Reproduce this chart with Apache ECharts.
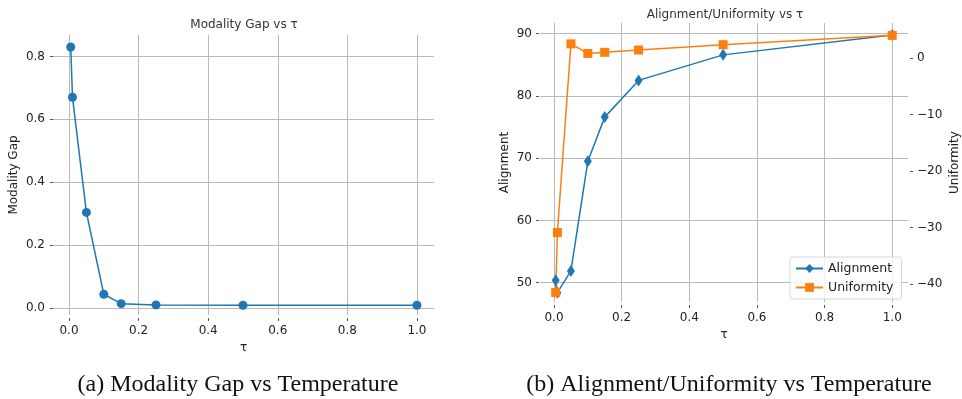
<!DOCTYPE html>
<html>
<head>
<meta charset="utf-8">
<script src="https://cdn.jsdelivr.net/npm/echarts@6/dist/echarts.min.js"></script>
<style>
  html, body { margin: 0; padding: 0; background: #fff; }
  #main { width: 962px; height: 399px; }
</style>
</head>
<body>
<div id="main"></div>
<script>
// temperature values (shared by both panels)
var tau = [0.005, 0.01, 0.05, 0.1, 0.15, 0.25, 0.5, 1.0];
// panel (a)
var gapValues = [0.83, 0.67, 0.304, 0.044, 0.014, 0.010, 0.009, 0.009];
// panel (b)
var alignValues = [50.4, 48.4, 51.9, 69.5, 76.6, 82.5, 86.6, 89.8];
var uniformValues = [-41.5, -30.9, 2.5, 0.8, 1.0, 1.4, 2.35, 4.0];
// tick labels
var xTicks = [0, 0.2, 0.4, 0.6, 0.8, 1.0];
var gapTicks = [0, 0.2, 0.4, 0.6, 0.8];
var alignTicks = [50, 60, 70, 80, 90];
var uniformTicks = [-40, -30, -20, -10, 0];

function pairs(xs, ys) {
    var out = [];
    for (var i = 0; i < xs.length; i++) {
        out.push([xs[i], ys[i]]);
    }
    return out;
}

var font = 'DejaVu Sans';
var gridColor = '#b9b9b9';
var tickStyle = { show: true, inside: false, length: 3, lineStyle: { color: '#555', width: 1 } };

function xAxisOf(idx, min, max) {
    return {
        type: 'value', gridIndex: idx, min: min, max: max,
        name: 'τ', nameLocation: 'middle', nameGap: 21,
        nameTextStyle: { fontFamily: font, fontSize: 12, color: '#222' },
        offset: 3,
        axisLine: { show: false, onZero: false },
        axisTick: Object.assign({ customValues: xTicks }, tickStyle),
        axisLabel: {
            customValues: xTicks, margin: 7, fontFamily: font, fontSize: 12, color: '#222',
            formatter: function (v) { return v.toFixed(1); }
        },
        splitLine: { show: true, lineStyle: { color: gridColor, width: 1 } }
    };
}

var myChart = echarts.init(document.getElementById('main'));
var option = {
    backgroundColor: '#fff',
    animation: false,
    title: [{
        text: 'Modality Gap vs τ', left: 239, top: 14, textAlign: 'center',
        textStyle: { fontFamily: font, fontSize: 12, fontWeight: 'normal', color: '#333' }
    }, {
        text: 'Alignment/Uniformity vs τ', left: 720, top: 4, textAlign: 'center',
        textStyle: { fontFamily: font, fontSize: 12, fontWeight: 'normal', color: '#333' }
    }, {
        text: '(a) Modality Gap vs Temperature', left: 233, top: 368, textAlign: 'center',
        textStyle: { fontFamily: 'Liberation Serif', fontSize: 24, fontWeight: 'normal', color: '#111' }
    }, {
        text: '(b) Alignment/Uniformity vs Temperature', left: 724, top: 368, textAlign: 'center',
        textStyle: { fontFamily: 'Liberation Serif', fontSize: 24, fontWeight: 'normal', color: '#111' }
    }],
    legend: {
        orient: 'vertical', left: 790, top: 257,
        padding: [5, 8, 5, 5], itemGap: 6, itemWidth: 27, itemHeight: 11,
        borderColor: '#d6d6d6', borderWidth: 1, borderRadius: 3,
        backgroundColor: 'rgba(255,255,255,0.8)',
        textStyle: { fontFamily: font, fontSize: 12.5, color: '#222' },
        data: ['Alignment', 'Uniformity']
    },
    grid: [
        { left: 53, top: 35, width: 381, height: 280 },
        { left: 540, top: 23, width: 368, height: 279 }
    ],
    xAxis: [
        xAxisOf(0, -0.046, 1.049),
        xAxisOf(1, -0.0414, 1.0466)
    ],
    yAxis: [{
        type: 'value', gridIndex: 0, min: -0.022, max: 0.868,
        name: 'Modality Gap', nameLocation: 'middle', nameGap: 33, nameRotate: 90,
        nameTextStyle: { fontFamily: font, fontSize: 12, color: '#222' },
        axisLine: { show: false, onZero: false },
        axisTick: Object.assign({ customValues: gapTicks }, tickStyle),
        axisLabel: {
            customValues: gapTicks, margin: 8, fontFamily: font, fontSize: 12, color: '#222',
            formatter: function (v) { return v.toFixed(1); }
        },
        splitLine: { show: true, lineStyle: { color: gridColor, width: 1 } }
    }, {
        type: 'value', gridIndex: 1, min: 46.9, max: 91.72, position: 'left',
        name: 'Alignment', nameLocation: 'middle', nameGap: 28, nameRotate: 90,
        nameTextStyle: { fontFamily: font, fontSize: 12, color: '#222' },
        offset: 1,
        axisLine: { show: false, onZero: false },
        axisTick: Object.assign({ customValues: alignTicks }, tickStyle),
        axisLabel: {
            customValues: alignTicks, margin: 7, fontFamily: font, fontSize: 12, color: '#222'
        },
        splitLine: { show: true, lineStyle: { color: gridColor, width: 1 } }
    }, {
        type: 'value', gridIndex: 1, min: -43.19, max: 6.19, position: 'right',
        name: 'Uniformity', nameLocation: 'middle', nameGap: 39, nameRotate: 90,
        nameTextStyle: { fontFamily: font, fontSize: 12, color: '#222' },
        offset: 2,
        axisLine: { show: false, onZero: false },
        axisTick: Object.assign({ customValues: uniformTicks }, tickStyle),
        axisLabel: {
            customValues: uniformTicks, margin: 7, fontFamily: font, fontSize: 12, color: '#222',
            formatter: function (v) { return v < 0 ? '\u2212' + Math.abs(v) : '' + v; }
        },
        splitLine: { show: false }
    }],
    series: [{
        name: 'Modality Gap', type: 'line', xAxisIndex: 0, yAxisIndex: 0,
        data: pairs(tau, gapValues),
        symbol: 'circle', symbolSize: 9,
        lineStyle: { color: '#1f77b4', width: 1.5 },
        itemStyle: { color: '#1f77b4' }
    }, {
        name: 'Alignment', type: 'line', xAxisIndex: 1, yAxisIndex: 1,
        data: pairs(tau, alignValues),
        symbol: 'diamond', symbolSize: [8, 12],
        lineStyle: { color: '#1f77b4', width: 1.5 },
        itemStyle: { color: '#1f77b4' }
    }, {
        name: 'Uniformity', type: 'line', xAxisIndex: 1, yAxisIndex: 2,
        data: pairs(tau, uniformValues),
        symbol: 'rect', symbolSize: 9,
        lineStyle: { color: '#ff7f0e', width: 1.5 },
        itemStyle: { color: '#ff7f0e' }
    }]
};
myChart.setOption(option);
</script>
</body>
</html>
